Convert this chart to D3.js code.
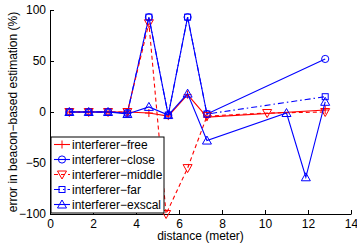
<!DOCTYPE html>
<html>
<head>
<meta charset="utf-8">
<script src="https://cdn.jsdelivr.net/npm/d3@7"></script>
<style>
  body { margin: 0; background: #fff; }
  text { font-family: "Liberation Sans", Arial, Helvetica, sans-serif; }
</style>
</head>
<body>
<div id="chart"></div>
<script>
// data
const xFree   = [0.9, 1.8, 2.7, 3.6, 4.6, 5.5, 6.4, 7.3, 12.8];
const yFree   = [0, 0, 0, 0, -1, -4, 17, -5, 2];
const xClose  = [0.9, 1.8, 2.7, 3.6, 4.6, 5.5, 6.4, 7.3, 12.8];
const yClose  = [0, 0, 0, -1, 93, -3, 93, -2, 52];
const xMiddle = [0.9, 1.8, 2.7, 3.6, 4.6, 5.4, 6.4, 7.3, 10.1, 12.8];
const yMiddle = [0, 0, 0, 0, 87, -100, -55, -4, -1, 0];
const xFar    = [0.9, 1.8, 2.7, 3.6, 4.6, 5.5, 6.4, 7.3, 12.8];
const yFar    = [0, 0, 0, -1, 93, -3, 93, -2, 15];
const xExscal = [0.9, 1.8, 2.7, 3.6, 4.6, 5.5, 6.4, 7.3, 11.0, 11.9, 12.8];
const yExscal = [0, 0, 0, -2, 5, -3, 18, -28, -1, -64, 10];

const seriesNames = ["interferer−free", "interferer−close", "interferer−middle", "interferer−far", "interferer−exscal"];
const xTicks = [0, 2, 4, 6, 8, 10, 12, 14];
const yTicks = [-100, -50, 0, 50, 100];

const series = [
  {name: seriesNames[0], xs: xFree, ys: yFree, color: "#ff0000", dash: null, marker: "plus"},
  {name: seriesNames[1], xs: xClose, ys: yClose, color: "#0000ff", dash: null, marker: "circle"},
  {name: seriesNames[2], xs: xMiddle, ys: yMiddle, color: "#ff0000", dash: "4,3", marker: "tridown"},
  {name: seriesNames[3], xs: xFar, ys: yFar, color: "#0000ff", dash: "6,3,1.5,3", marker: "square"},
  {name: seriesNames[4], xs: xExscal, ys: yExscal, color: "#0000ff", dash: null, marker: "triup"}
];

const W = 357, H = 244;
const margin = {top: 10, right: 6, bottom: 30, left: 50};

const svg = d3.select("#chart").append("svg")
  .attr("width", W).attr("height", H);

const x = d3.scaleLinear().domain([0, 14]).range([margin.left, W - margin.right]);
const y = d3.scaleLinear().domain([-100, 100]).range([H - margin.bottom, margin.top]);

// axes, ticks pointing inward like matlab
svg.append("g")
  .attr("transform", "translate(0," + (H - margin.bottom) + ")")
  .call(d3.axisBottom(x).tickValues(xTicks).tickSizeInner(-4).tickSizeOuter(0).tickPadding(5)
    .tickFormat(d3.format("d")))
  .call(g => g.selectAll("text").attr("font-size", 12).attr("fill", "#000").attr("font-family", null));

svg.append("g")
  .attr("transform", "translate(" + margin.left + ",0)")
  .call(d3.axisLeft(y).tickValues(yTicks).tickSizeInner(-4).tickSizeOuter(0).tickPadding(4)
    .tickFormat(d => d < 0 ? "−" + Math.abs(d) : d))
  .call(g => g.selectAll("text").attr("font-size", 12).attr("fill", "#000").attr("font-family", null));

svg.selectAll(".domain").attr("stroke", "#000");

svg.append("text")
  .attr("x", (margin.left + W - margin.right) / 2)
  .attr("y", 240)
  .attr("text-anchor", "middle")
  .attr("font-size", 12)
  .text("distance (meter)");

svg.append("text")
  .attr("transform", "translate(17," + 112 + ") rotate(-90)")
  .attr("text-anchor", "middle")
  .attr("font-size", 12)
  .text("error in beacon−based estimation (%)");

function drawMarker(g, type, cx, cy, color) {
  if (type === "plus") {
    g.append("path").attr("d", `M${cx-4},${cy}H${cx+4}M${cx},${cy-4}V${cy+4}`)
      .attr("stroke", color).attr("fill", "none").attr("stroke-width", 1);
  } else if (type === "circle") {
    g.append("circle").attr("cx", cx).attr("cy", cy).attr("r", 3.6)
      .attr("stroke", color).attr("fill", "none").attr("stroke-width", 1);
  } else if (type === "square") {
    g.append("rect").attr("x", cx - 3).attr("y", cy - 3).attr("width", 6).attr("height", 6)
      .attr("stroke", color).attr("fill", "none").attr("stroke-width", 1);
  } else if (type === "triup") {
    g.append("path").attr("d", `M${cx},${cy-4.5}L${cx+4.5},${cy+3.5}L${cx-4.5},${cy+3.5}Z`)
      .attr("stroke", color).attr("fill", "none").attr("stroke-width", 1);
  } else if (type === "tridown") {
    g.append("path").attr("d", `M${cx},${cy+4.5}L${cx+4.5},${cy-3.5}L${cx-4.5},${cy-3.5}Z`)
      .attr("stroke", color).attr("fill", "none").attr("stroke-width", 1);
  }
}

const line = d3.line().x(d => x(d[0])).y(d => y(d[1]));

series.forEach(s => {
  const pts = s.xs.map((v, i) => [v, s.ys[i]]);
  const g = svg.append("g");
  g.append("path")
    .datum(pts)
    .attr("d", line)
    .attr("fill", "none")
    .attr("stroke", s.color)
    .attr("stroke-width", 1.1)
    .attr("stroke-dasharray", s.dash);
  pts.forEach(p => drawMarker(g, s.marker, x(p[0]), y(p[1]), s.color));
});

// legend
const lg = svg.append("g").attr("transform", "translate(51,137)");
lg.append("rect").attr("width", 113).attr("height", 76)
  .attr("fill", "#fff").attr("stroke", "#000").attr("stroke-width", 1);
series.forEach((s, i) => {
  const ly = 7.5 + i * 15;
  lg.append("line").attr("x1", 3).attr("x2", 19).attr("y1", ly).attr("y2", ly)
    .attr("stroke", s.color).attr("stroke-width", 1.1).attr("stroke-dasharray", s.dash);
  drawMarker(lg, s.marker, 11, ly, s.color);
  lg.append("text").attr("x", 21).attr("y", ly + 4.5).attr("font-size", 12).text(s.name);
});
</script>
</body>
</html>
